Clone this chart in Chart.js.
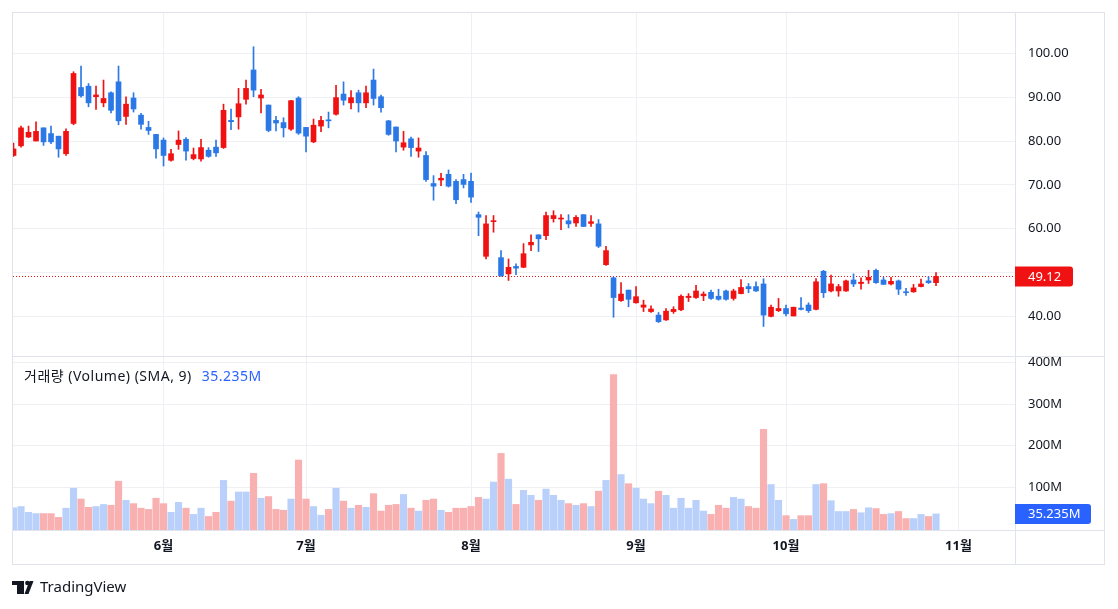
<!DOCTYPE html>
<html>
<head>
<meta charset="utf-8">
<script src="https://cdn.jsdelivr.net/npm/chart.js@4.4.1/dist/chart.umd.min.js"></script>
<style>
  html, body { margin: 0; padding: 0; background: #fff; }
</style>
</head>
<body>
<canvas id="tvChart" width="1118" height="609"></canvas>
<script>
// daily sessions, May -> late October (index 0 = first visible session)
const opens  = [76.7,78.9,80.9,80.0,83.0,81.7,81.1,77.1,84.0,92.2, 92.5,90.1,88.7,91.0,93.5,85.6,89.8,85.9,83.1,81.5,
                80.2,75.6,79.2,80.4,76.0,75.9,77.9,78.6,78.5,84.7, 85.5,89.5,96.2,89.8,88.2,84.7,84.2,82.7,89.8,83.1,
                79.8,83.4,84.8,86.1,90.7,88.7,91.0,88.7,93.9,90.1, 84.6,83.2,78.6,80.5,77.7,76.7,70.3,71.1,72.4,70.8,
                71.2,70.8,63.2,53.7,61.6,53.4,49.7,51.4,51.2,56.3, 58.6,58.4,62.3,62.2,61.8,61.3,63.2,61.2,61.1,51.8,
                48.8,43.6,46.0,43.1,42.1,41.1,40.3,39.2,41.1,41.5, 44.3,44.3,44.7,45.5,44.6,45.8,44.1,45.2,46.8,46.8,
                47.4,40.0,41.3,41.8,40.1,41.9,42.6,41.6,50.3,45.8, 45.8,45.8,48.3,47.5,48.3,50.5,48.3,47.4,48.1,45.6,
                45.6,46.8,48.1,47.7];
const highs  = [79.5,83.4,83.4,84.4,83.0,83.4,81.1,82.8,95.8,97.1, 93.1,92.5,93.9,91.2,97.1,90.1,91.0,86.3,84.5,81.5,
                80.7,78.1,82.3,80.8,78.4,80.4,78.5,80.2,88.4,87.3, 92.0,93.9,101.5,91.8,88.2,85.6,85.3,89.3,90.1,83.1,
                85.0,85.6,86.6,92.7,93.5,91.5,91.6,92.5,96.4,90.5, 84.7,83.2,82.2,80.9,80.7,77.6,72.1,72.6,73.4,71.2,
                72.4,72.7,63.8,63.0,63.0,55.0,53.1,52.0,56.6,58.6, 58.6,63.8,64.1,63.2,63.2,63.0,63.2,63.0,62.1,56.0,
                49.0,47.7,46.0,46.8,43.7,42.4,40.9,41.8,42.2,44.9, 45.2,47.1,45.6,46.0,46.2,46.0,46.2,48.4,47.5,47.9,
                48.6,42.6,44.1,42.6,42.1,44.3,43.1,48.6,50.5,49.4, 47.3,48.3,49.7,48.8,50.5,50.8,48.9,48.9,48.3,46.4,
                47.3,48.5,49.1,50.0];
const lows   = [76.5,78.6,80.8,80.0,79.0,79.4,76.3,76.7,83.7,90.0, 87.8,87.2,87.8,86.4,83.7,83.8,86.6,82.7,81.5,76.1,
                74.3,75.4,78.1,75.6,75.7,75.4,76.3,76.5,78.3,82.6, 82.7,88.4,90.1,86.4,82.1,82.3,80.9,82.4,81.5,77.5,
                79.6,82.1,83.0,85.9,88.2,87.3,86.6,87.6,88.2,86.6, 81.3,77.5,77.9,76.5,76.3,70.8,66.5,69.8,69.5,65.7,
                69.3,66.0,58.4,53.1,59.2,49.1,48.2,49.5,51.1,55.0, 54.8,57.5,61.5,59.8,60.2,60.5,60.5,60.5,55.7,51.6,
                39.8,43.4,42.2,43.0,41.1,40.9,38.6,39.1,40.7,41.3, 43.4,44.1,43.6,43.9,43.7,43.7,43.7,45.1,45.4,45.7,
                37.7,39.9,41.1,40.1,40.1,41.5,40.9,41.5,44.3,45.6, 44.6,45.7,46.8,46.2,47.5,47.5,47.3,47.2,45.0,44.8,
                45.5,46.7,47.5,47.0];
const closes = [78.2,83.0,82.0,82.2,79.8,79.8,78.2,82.2,95.4,90.3, 88.7,90.5,89.7,87.0,84.6,88.4,87.3,83.8,82.4,78.2,
                76.7,77.1,80.2,77.7,76.9,78.5,76.5,77.3,87.0,84.4, 88.5,92.0,91.6,90.5,82.4,84.1,83.0,89.2,81.8,81.1,
                83.6,84.7,84.6,89.9,89.3,89.9,88.7,91.0,89.7,87.6, 81.5,80.0,79.6,78.5,78.4,71.2,69.7,71.5,69.7,66.6,
                70.1,67.2,62.6,61.1,61.8,49.3,51.2,51.0,54.3,56.9, 57.7,63.0,63.0,62.4,61.1,62.6,60.5,61.6,56.0,55.0,
                44.3,45.1,43.9,44.5,42.6,41.7,38.8,41.2,41.6,44.6, 44.6,45.8,45.1,44.1,43.9,43.9,45.8,46.6,46.3,45.8,
                40.3,42.1,41.8,40.6,42.1,41.6,41.3,47.9,45.4,47.4, 46.8,48.1,47.4,47.8,48.9,47.7,47.3,48.0,46.2,45.4,
                46.5,47.4,47.7,49.12];
// volume in millions of shares
const volumes = [50,53,39,36,36,36,27,49,97,71, 51,53,58,56,114,68,60,49,46,73,
                 60,39,63,49,34,49,29,39,116,66, 88,88,133,73,77,46,44,71,165,71,
                 53,32,46,97,66,49,56,51,84,42, 56,58,82,49,42,68,71,44,39,49,
                 49,53,75,71,112,181,119,58,92,80, 68,95,80,68,60,56,60,53,90,116,
                 371,130,108,97,71,60,90,80,49,73, 49,68,42,34,56,49,75,71,53,49,
                 239,106,68,31,22,31,31,106,108,67, 41,41,46,38,50,48,34,36,41,24,
                 24,34,29,35.235];
const monthLabels = ['6월', '7월', '8월', '9월', '10월', '11월'];
const monthStarts = [20, 39, 61, 83, 103, 126];
const priceTicks = [40, 50, 60, 70, 80, 90, 100];
const volumeTicks = [100, 200, 300, 400];
const volumeTitle = '거래량 (Volume) (SMA, 9)';
const volumeSma = '35.235M';

const upColor = '#F01212';
const downColor = '#2B78E6';
const volUp = '#B9D1FA';
const volDown = '#F8B0B0';
const gridColor = '#EEF0F4';
const frameColor = '#E0E3EB';
const textColor = '#131722';
const fontFamily = "'Noto Sans', 'Noto Sans CJK KR', sans-serif";
const VOL_MIN = -3.6;

const isUp = closes.map((c, i) => c >= opens[i]);
const candleColors = isUp.map(u => u ? upColor : downColor);

// fixed box sizes, and no extra label padding from the layout
function fitY(s) { s.width = 90; s.paddingTop = 0; s.paddingBottom = 0; }
function fitX(s) { s.height = 35; s.paddingLeft = 0; s.paddingRight = 0; }

const frame = {
  id: 'frame',
  beforeDatasetsDraw(chart) {
    const { ctx, scales: { x, y } } = chart;
    const py = Math.round(y.getPixelForValue(closes[closes.length - 1])) + 0.5;
    ctx.save();
    ctx.strokeStyle = upColor;
    ctx.lineWidth = 1;
    ctx.setLineDash([1, 2]);
    ctx.beginPath();
    ctx.moveTo(x.left, py);
    ctx.lineTo(x.right, py);
    ctx.stroke();
    ctx.restore();
  },
  afterDraw(chart) {
    const { ctx, chartArea, scales: { x, y, yv } } = chart;
    const L = 12.5, T = 12.5, R = yv.right - 0.5, B = x.bottom - 0.5;
    ctx.save();
    ctx.strokeStyle = frameColor;
    ctx.lineWidth = 1;
    ctx.strokeRect(L, T, R - L, B - T);
    ctx.beginPath();
    ctx.moveTo(L, Math.round(yv.top) + 0.5); ctx.lineTo(R, Math.round(yv.top) + 0.5);
    ctx.moveTo(L, Math.round(x.top) + 0.5); ctx.lineTo(R, Math.round(x.top) + 0.5);
    ctx.moveTo(chartArea.right + 0.5, T); ctx.lineTo(chartArea.right + 0.5, B);
    ctx.stroke();

    // volume pane title
    ctx.font = '14px ' + fontFamily;
    ctx.letterSpacing = '0.5px';
    ctx.textBaseline = 'middle';
    ctx.textAlign = 'left';
    ctx.fillStyle = textColor;
    ctx.fillText(volumeTitle, 24, yv.top + 21);
    const w = ctx.measureText(volumeTitle).width;
    ctx.fillStyle = '#2962FF';
    ctx.fillText(volumeSma, 24 + w + 10, yv.top + 21);
    ctx.letterSpacing = '0px';

    // last price label
    ctx.font = '13px ' + fontFamily;
    const last = closes[closes.length - 1];
    const ly = y.getPixelForValue(last);
    ctx.fillStyle = isUp[isUp.length - 1] ? upColor : downColor;
    ctx.beginPath();
    ctx.roundRect(chartArea.right, ly - 10, 58, 20, [0, 3, 3, 0]);
    ctx.fill();
    ctx.fillStyle = '#fff';
    ctx.fillText(last.toFixed(2), chartArea.right + 13, ly + 0.5);

    // last volume label
    const vy = yv.getPixelForValue(volumes[volumes.length - 1]);
    ctx.fillStyle = '#2962FF';
    ctx.beginPath();
    ctx.roundRect(chartArea.right, vy - 10, 76, 20, [0, 3, 3, 0]);
    ctx.fill();
    ctx.fillStyle = '#fff';
    ctx.fillText(volumeSma, chartArea.right + 13, vy + 0.5);

    // TradingView mark
    ctx.fillStyle = textColor;
    ctx.fillRect(12, 581, 12, 4);
    ctx.fillRect(17, 581, 7, 13);
    ctx.beginPath();
    ctx.arc(27.3, 583, 2.2, 0, Math.PI * 2);
    ctx.fill();
    ctx.beginPath();
    ctx.moveTo(29.5, 581); ctx.lineTo(33.5, 581); ctx.lineTo(28.5, 594); ctx.lineTo(24.5, 594);
    ctx.closePath();
    ctx.fill();
    ctx.font = '15px ' + fontFamily;
    ctx.fillText('TradingView', 40, 587.5);
    ctx.restore();
  }
};

new Chart(document.getElementById('tvChart'), {
  type: 'bar',
  data: {
    datasets: [
      {
        label: 'wick',
        data: lows.map((l, i) => ({ x: i, y: [l, highs[i]] })),
        backgroundColor: candleColors,
        barThickness: 1,
        grouped: false,
        yAxisID: 'y'
      },
      {
        label: 'body',
        data: opens.map((o, i) => ({ x: i, y: [o, closes[i]] })),
        backgroundColor: candleColors,
        barThickness: 5,
        minBarLength: 1,
        grouped: false,
        yAxisID: 'y'
      },
      {
        label: 'volume',
        data: volumes.map((v, i) => ({ x: i, y: v })),
        backgroundColor: isUp.map(u => u ? volUp : volDown),
        barThickness: 6.5,
        base: VOL_MIN,
        grouped: false,
        yAxisID: 'yv'
      }
    ]
  },
  options: {
    responsive: false,
    animation: false,
    devicePixelRatio: 1,
    layout: { padding: { left: 13, top: 13, right: 13, bottom: 44 } },
    plugins: { legend: { display: false }, tooltip: { enabled: false } },
    scales: {
      x: {
        type: 'linear',
        offset: false,
        min: -0.07,
        max: 133.53,
        afterBuildTicks: s => { s.ticks = monthStarts.map(v => ({ value: v })); },
        afterFit: fitX,
        ticks: {
          autoSkip: false,
          maxRotation: 0,
          padding: 8,
          color: textColor,
          font: { family: fontFamily, size: 13, weight: 'bold' },
          callback: v => monthLabels[monthStarts.indexOf(v)] || ''
        },
        grid: { color: gridColor, drawTicks: false, offset: false },
        border: { color: frameColor }
      },
      y: {
        position: 'right',
        stack: 'panes',
        stackWeight: 343,
        min: 30.97,
        max: 109.19,
        afterBuildTicks: s => { s.ticks = priceTicks.map(v => ({ value: v })); },
        afterFit: fitY,
        ticks: {
          padding: 13,
          color: textColor,
          font: { family: fontFamily, size: 13 },
          callback: v => v === 50 ? '' : v.toFixed(2)
        },
        grid: { color: gridColor, drawTicks: false },
        border: { color: frameColor }
      },
      yv: {
        position: 'right',
        stack: 'panes',
        stackWeight: 174,
        min: VOL_MIN,
        max: 415.7,
        afterBuildTicks: s => { s.ticks = volumeTicks.map(v => ({ value: v })); },
        afterFit: fitY,
        ticks: {
          padding: 13,
          color: textColor,
          font: { family: fontFamily, size: 13 },
          callback: v => v + 'M'
        },
        grid: { color: gridColor, drawTicks: false },
        border: { color: frameColor }
      }
    }
  },
  plugins: [frame]
});
</script>
</body>
</html>
